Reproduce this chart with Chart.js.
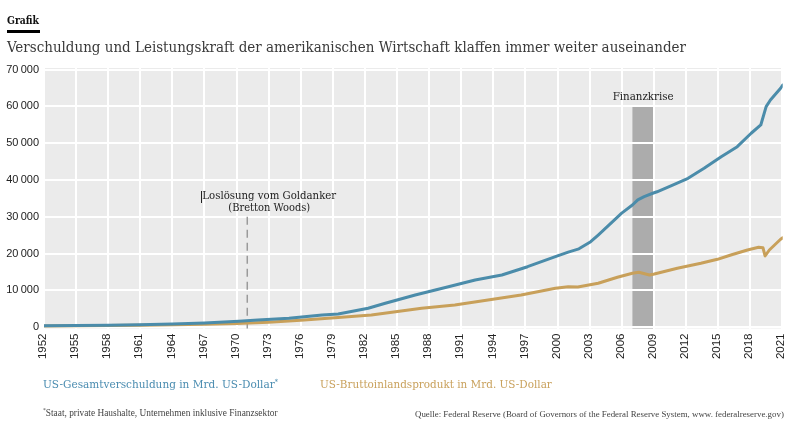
<!DOCTYPE html>
<html><head><meta charset="utf-8">
<script src="https://cdn.jsdelivr.net/npm/chart.js@4.4.0/dist/chart.umd.min.js"></script>
<style>
body{margin:0;background:#fff;}
#wrap{position:relative;width:801px;height:431px;overflow:hidden;background:#fff;}
canvas{position:absolute;left:0;top:0;}
.t{position:absolute;white-space:nowrap;line-height:1;transform:translateY(-50%);}
.cc{transform:translate(-50%,-50%);}
.serif{font-family:"DejaVu Serif Condensed","DejaVu Serif",serif;font-stretch:condensed;}
sup{font-size:60%;vertical-align:top;position:relative;top:-1px;}
</style></head><body>
<div id="wrap">
<canvas id="c" width="801" height="431"></canvas>
<div id="kicker" class="t serif" data-w="32" style="left:7px;top:20px;font-weight:bold;font-size:11px;color:#111">Grafik</div>
<div style="position:absolute;left:7px;top:30px;width:33px;height:3px;background:#000"></div>
<div id="title" class="t serif" data-w="679" style="left:7px;top:47px;font-size:14px;color:#3a3a3a">Verschuldung und Leistungskraft der amerikanischen Wirtschaft klaffen immer weiter auseinander</div>
<div id="leg1" class="t serif" data-w="235" style="left:43px;top:385px;font-size:12px;color:#4a8cb0">US-Gesamtverschuldung in Mrd. US-Dollar<sup>*</sup></div>
<div id="leg2" class="t serif" data-w="232" style="left:320px;top:385px;font-size:12px;color:#c9a15c">US-Bruttoinlandsprodukt in Mrd. US-Dollar</div>
<div id="foot" class="t" data-w="235" style="left:43px;top:414px;font-size:8.5px;color:#444;font-family:'Liberation Serif',serif"><sup>*</sup>Staat, private Haushalte, Unternehmen inklusive Finanzsektor</div>
<div id="src" class="t" data-w="370" style="left:415px;top:414px;font-size:8.5px;color:#444;font-family:'Liberation Serif',serif">Quelle: Federal Reserve (Board of Governors of the Federal Reserve System, www. federalreserve.gov)</div>
<div id="annFin" class="t cc serif" data-w="61" style="font-size:10px;color:#222">Finanzkrise</div>
<div id="annLos" class="t cc serif" data-w="134" style="font-size:10px;color:#222">Loslösung vom Goldanker</div>
<div id="annBW" class="t cc serif" data-w="82" style="font-size:10px;color:#222">(Bretton Woods)</div>
<div id="cursor" style="position:absolute;width:1.2px;height:12.5px;background:#222"></div>
</div>
<script>
// ---- data ----
const debtYears  = [1952, 1955, 1958, 1960.9, 1964, 1967, 1970.2, 1972, 1974.9, 1978.0, 1979.5, 1982.3, 1983.9, 1986.7, 1989.8, 1992.3, 1994.8, 1997.2, 1999.8, 2001.0, 2002.0, 2003.1, 2003.8, 2006.0, 2007.0, 2007.5, 2008.1, 2008.9, 2009.3, 2010.6, 2012.2, 2013.7, 2015.3, 2016.8, 2018.1, 2019.0, 2019.5, 2019.9, 2020.85, 2021.05];
const debtValues = [410, 470, 560, 680, 850, 1150, 1600, 1950, 2420, 3300, 3590, 5140, 6500, 8750, 11000, 12830, 14180, 16440, 19160, 20400, 21300, 23230, 25050, 31000, 33200, 34600, 35500, 36400, 36800, 38400, 40460, 43180, 46330, 49050, 52700, 54950, 59920, 61740, 64920, 65800];

const gdpYears  = [1952, 1955, 1958, 1961, 1964, 1967, 1970, 1973, 1976, 1979.5, 1982.6, 1987.3, 1990.4, 1993.5, 1996.6, 1999.8, 2001.0, 2001.9, 2003.8, 2005.6, 2007.0, 2007.6, 2008.6, 2009.05, 2011.2, 2013.4, 2014.95, 2016.2, 2017.75, 2018.8, 2019.2, 2019.4, 2019.8, 2020.85, 2021.05];
const gdpValues = [350, 400, 460, 530, 650, 820, 1040, 1380, 1900, 2640, 3300, 5140, 6030, 7390, 8750, 10570, 11000, 10900, 11930, 13560, 14650, 14920, 14180, 14460, 16000, 17360, 18450, 19620, 20980, 21710, 21600, 19350, 20980, 23890, 24300];

const xTickLabels = [1952,1955,1958,1961,1964,1967,1970,1973,1976,1979,1982,1985,1988,1991,1994,1997,2000,2003,2006,2009,2012,2015,2018,2021];
const yTickValues = [0,10000,20000,30000,40000,50000,60000,70000];

const crisisStart = 2007, crisisEnd = 2009, crisisTop = 60000;
const brettonYear = 1971, brettonTop = 30000;

// ---- fit text widths ----
document.querySelectorAll('[data-w]').forEach(el => {
  const w = parseFloat(el.dataset.w);
  const r = el.getBoundingClientRect().width;
  const fs = parseFloat(getComputedStyle(el).fontSize);
  if (r > 0) el.style.fontSize = (fs * w / r).toFixed(2) + 'px';
});

const bgPlugin = {
  id: 'bg',
  beforeDraw(chart) {
    const {ctx, chartArea: a, scales: {x, y}} = chart;
    ctx.save();
    ctx.fillStyle = '#ebebeb';
    ctx.fillRect(a.left, a.top, a.right - a.left, a.bottom - a.top);
    const x0 = x.getPixelForValue(crisisStart), x1 = x.getPixelForValue(crisisEnd);
    const yt = y.getPixelForValue(crisisTop);
    ctx.fillStyle = '#acacac';
    ctx.fillRect(x0, yt, x1 - x0, a.bottom - yt);
    ctx.restore();
  },
  beforeDatasetsDraw(chart) {
    const {ctx, chartArea: a, scales: {x, y}} = chart;
    const xb = x.getPixelForValue(brettonYear);
    ctx.save();
    ctx.strokeStyle = '#9a9a9a';
    ctx.lineWidth = 1.5;
    ctx.setLineDash([8, 5]);
    ctx.beginPath();
    ctx.moveTo(xb, y.getPixelForValue(brettonTop));
    ctx.lineTo(xb, a.bottom);
    ctx.stroke();
    ctx.restore();
  },
  afterDraw(chart) {
    const {scales: {x, y}} = chart;
    const fin = document.getElementById('annFin');
    fin.style.left = ((x.getPixelForValue(crisisStart) + x.getPixelForValue(crisisEnd)) / 2) + 'px';
    fin.style.top = (y.getPixelForValue(crisisTop) - 9.5) + 'px';
    const xb = x.getPixelForValue(brettonYear);
    const yd = y.getPixelForValue(brettonTop);
    const los = document.getElementById('annLos');
    los.style.left = (xb + 22) + 'px';
    los.style.top = (yd - 21) + 'px';
    const bw = document.getElementById('annBW');
    bw.style.left = (xb + 22) + 'px';
    bw.style.top = (yd - 9) + 'px';
    const cur = document.getElementById('cursor');
    cur.style.left = (xb - 46) + 'px';
    cur.style.top = (yd - 26) + 'px';
  }
};

const tickFont = {family: '"Liberation Sans", Arial, sans-serif', size: 11.5};

new Chart(document.getElementById('c'), {
  type: 'line',
  data: {
    datasets: [
      {
        label: 'US-Gesamtverschuldung in Mrd. US-Dollar',
        data: debtYears.map((v, i) => ({x: v, y: debtValues[i]})),
        borderColor: '#4b8caa', borderWidth: 3, pointRadius: 0, tension: 0,
        borderJoinStyle: 'round', borderCapStyle: 'round', fill: false
      },
      {
        label: 'US-Bruttoinlandsprodukt in Mrd. US-Dollar',
        data: gdpYears.map((v, i) => ({x: v, y: gdpValues[i]})),
        borderColor: '#c8a05a', borderWidth: 3, pointRadius: 0, tension: 0,
        borderJoinStyle: 'round', borderCapStyle: 'round', fill: false
      }
    ]
  },
  options: {
    responsive: false,
    animation: false,
    layout: {padding: {left: 0, top: 68, right: 15.5, bottom: 67.5}},
    plugins: {legend: {display: false}, tooltip: {enabled: false}, title: {display: false}},
    scales: {
      x: {
        type: 'linear', min: 1952, max: 2021.05,
        afterBuildTicks: s => { s.ticks = xTickLabels.map(v => ({value: v})); },
        afterFit: s => { s.height = 35; },
        grid: {color: '#ffffff', lineWidth: 2, drawTicks: false},
        border: {display: false},
        ticks: {autoSkip: false, minRotation: 90, maxRotation: 90, padding: 5, labelOffset: -1,
                font: tickFont, color: '#222', callback: v => String(v)}
      },
      y: {
        min: -350, max: 70430,
        afterBuildTicks: s => { s.ticks = yTickValues.map(v => ({value: v})); },
        afterFit: s => { s.width = 44; },
        grid: {color: '#ffffff', lineWidth: 2, drawTicks: false},
        border: {display: false},
        ticks: {padding: 5, font: {family: '"Liberation Sans", Arial, sans-serif', size: 11}, color: '#222',
                callback: v => v === 0 ? '0' : (v / 1000) + '\u2009000'}
      }
    }
  },
  plugins: [bgPlugin]
});
</script>
</body></html>
